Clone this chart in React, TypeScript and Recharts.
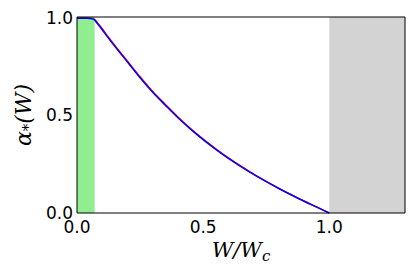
import React from "react";
import {
  ComposedChart,
  Line,
  XAxis,
  YAxis,
  ReferenceArea,
} from "recharts";

// W / W_c sample positions
const wRatio = [0, 0.02, 0.04, 0.06, 0.07, 0.08, 0.1, 0.12, 0.15, 0.2, 0.25, 0.3, 0.35, 0.4, 0.45, 0.5, 0.55, 0.6, 0.65, 0.7, 0.75, 0.8, 0.85, 0.9, 0.95, 1.0];
// alpha_*
const alphaBlue = [0.993, 0.993, 0.993, 0.991, 0.984, 0.968, 0.935, 0.9, 0.85, 0.77, 0.69, 0.616, 0.55, 0.486, 0.428, 0.374, 0.325, 0.279, 0.237, 0.197, 0.16, 0.125, 0.092, 0.06, 0.03, 0.0];
// red curve sits just above the blue one
const alphaRed = [0.995, 0.995, 0.995, 0.993, 0.987, 0.972, 0.94, 0.905, 0.855, 0.775, 0.695, 0.62, 0.554, 0.49, 0.431, 0.377, 0.327, 0.281, 0.239, 0.198, 0.161, 0.126, 0.093, 0.061, 0.031, 0.0];

const xTicks = [0, 0.5, 1.0];
const yTicks = [0, 0.5, 1.0];
const greenBand = [0, 0.07];
const grayBand = [1.0, 1.3];

const data = wRatio.map((w, i) => ({ w, blue: alphaBlue[i], red: alphaRed[i] }));

const tickFont = { fontFamily: "DejaVu Sans", fontSize: 17, fill: "#000" };

const XLabel = (props: any) => {
  const { x, y, width } = props.viewBox;
  return (
    <text
      x={x + width / 2}
      y={y + 44}
      textAnchor="middle"
      fontFamily="DejaVu Serif"
      fontStyle="italic"
      fontSize={21}
      fill="#000"
    >
      W/W<tspan fontSize={15} dy={4}>c</tspan>
    </text>
  );
};

const YLabel = (props: any) => {
  const { y, height } = props.viewBox;
  const cx = 15;
  const cy = y + height / 2;
  return (
    <text
      x={cx}
      y={cy}
      transform={`rotate(-90 ${cx} ${cy})`}
      textAnchor="middle"
      dominantBaseline="central"
      fontFamily="DejaVu Serif"
      fontStyle="italic"
      fontSize={22}
      fill="#000"
    >
      α<tspan fontSize={15} dy={5}>*</tspan>
      <tspan dy={-5}>(W)</tspan>
    </text>
  );
};

export default function App() {
  return (
    <div style={{ width: 407, height: 269 }}>
      <ComposedChart
        width={407}
        height={269}
        data={data}
        margin={{ top: 9, right: 10, bottom: 0, left: 0 }}
      >
        <ReferenceArea x1={greenBand[0]} x2={greenBand[1]} y1={0} y2={1} fill="#90ee90" fillOpacity={1} stroke="none" />
        <ReferenceArea x1={grayBand[0]} x2={grayBand[1]} y1={0} y2={1} fill="#d3d3d3" fillOpacity={1} stroke="none" />
        <XAxis
          dataKey="w"
          type="number"
          domain={[0, 1.3]}
          ticks={xTicks}
          tickFormatter={(v: number) => v.toFixed(1)}
          height={64}
          tickSize={0}
          tickMargin={8}
          tickLine={false}
          axisLine={{ stroke: "#000" }}
          tick={tickFont}
          label={<XLabel />}
        />
        <XAxis
          xAxisId="top"
          orientation="top"
          type="number"
          domain={[0, 1.3]}
          ticks={xTicks}
          mirror
          tick={false}
          tickSize={4}
          tickLine={{ stroke: "#888" }}
          axisLine={{ stroke: "#000" }}
        />
        <YAxis
          type="number"
          domain={[0, 1]}
          ticks={yTicks}
          tickFormatter={(v: number) => v.toFixed(1)}
          width={69}
          tickSize={0}
          tickMargin={4}
          tickLine={false}
          axisLine={{ stroke: "#000" }}
          tick={tickFont}
          label={<YLabel />}
        />
        <YAxis
          yAxisId="right"
          orientation="right"
          type="number"
          domain={[0, 1]}
          ticks={yTicks}
          mirror
          tick={false}
          tickSize={4}
          tickLine={{ stroke: "#888" }}
          axisLine={{ stroke: "#000" }}
        />
        <Line type="monotone" dataKey="red" stroke="#ff0000" strokeWidth={1.5} dot={false} isAnimationActive={false} />
        <Line type="monotone" dataKey="blue" stroke="#0000ff" strokeWidth={1.5} dot={false} isAnimationActive={false} />
      </ComposedChart>
    </div>
  );
}
